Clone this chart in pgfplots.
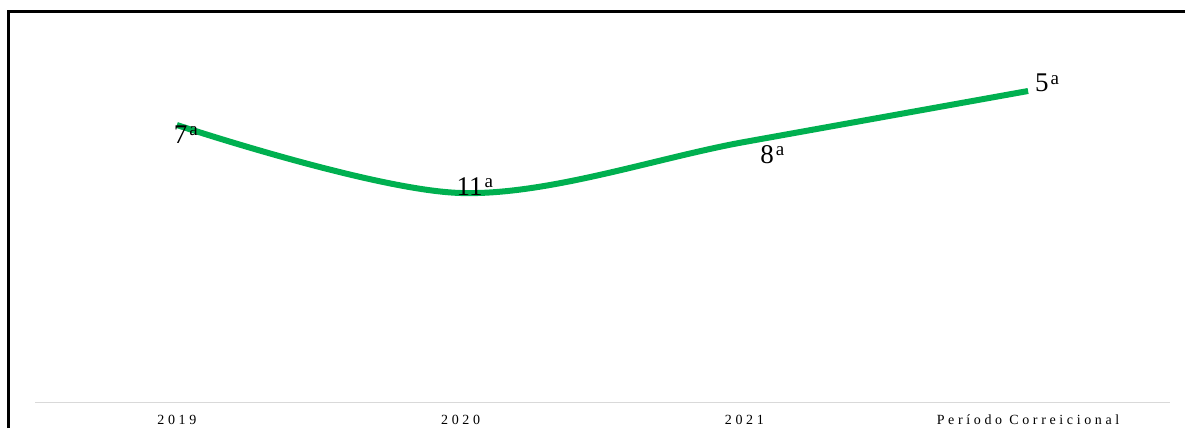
\documentclass[border=0pt]{standalone}
\usepackage{fontspec}
\setmainfont{Liberation Serif}
\newfontfamily\tickfont[LetterSpace=26]{Liberation Serif}
\usepackage{pgfplots}
\usepackage{pgfplotstable}
\pgfplotsset{compat=1.18}
\definecolor{lgreen}{HTML}{00B050}
\definecolor{axgray}{HTML}{D9D9D9}
\pgfplotstableread{
x y lab dx dy
0 7 7 -6 -18
1 11 11 -7 -2
2 8 8 13 -21
3 5 5 4 -1
}\ranks
\begin{document}
\begin{tikzpicture}[x=1pt,y=1pt]
\useasboundingbox (0,0) rectangle (1185,428);
\begin{axis}[
  name=ax,
  at={(35pt,25pt)}, anchor=south west, scale only axis,
  width=1135pt, height=391pt,
  xmin=-0.5, xmax=3.5, ymin=0.353, ymax=23.353, y dir=reverse,
  axis line style={draw=none},
  ytick=\empty,
  xtick={0,1,2,3}, xticklabels={2019,2020,2021,Período Correicional},
  major tick length=0pt,
  xticklabel style={font=\tickfont\fontsize{14}{14}\selectfont, anchor=base, yshift=-21pt, inner sep=0pt},
  clip=false,
]
\addplot[lgreen, line width=6pt, smooth, tension=0.55, mark=none,
  point meta=explicit symbolic,
  visualization depends on={\thisrow{dx}\as\dx},
  visualization depends on={\thisrow{dy}\as\dy},
  nodes near coords={\fontsize{27}{27}\selectfont\pgfplotspointmeta\hspace{2pt}\raisebox{8pt}{\fontsize{19}{19}\selectfont a}},
  every node near coord/.append style={anchor=base west, text=black, xshift=\dx pt, yshift=\dy pt, inner sep=0pt},
] table[x=x,y=y,meta=lab]{\ranks};
\end{axis}
\draw[axgray, line width=1pt] (ax.south west) -- (ax.south east);
\draw[black, line width=3pt] (8.5,0) -- (8.5,416.5) -- (1185,416.5);
\end{tikzpicture}
\end{document}
